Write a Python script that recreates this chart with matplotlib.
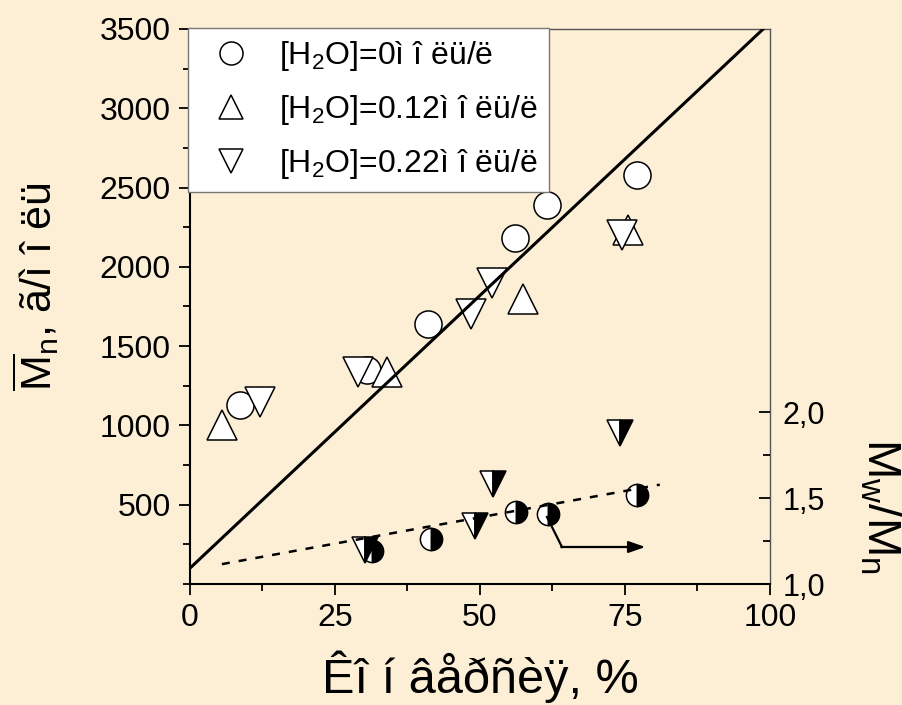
import matplotlib
matplotlib.use('Agg')
import matplotlib.pyplot as plt
from matplotlib.ticker import MultipleLocator, FixedLocator, FuncFormatter

plt.rcParams['font.family'] = ['Liberation Sans', 'DejaVu Sans']
plt.rcParams['mathtext.default'] = 'regular'

# Mn vs conversion, three water concentrations
x_0 = [8.6, 30.5, 41.0, 56.0, 61.5, 77.0]
mn_0 = [1130, 1350, 1640, 2180, 2390, 2580]
x_12 = [5.5, 34.0, 57.5, 75.5]
mn_12 = [1000, 1340, 1800, 2230]
x_22 = [12.0, 29.0, 48.5, 52.0, 74.5]
mn_22 = [1150, 1340, 1700, 1900, 2200]

# Mw/Mn (right axis)
x_pd_c = [31.4, 41.5, 56.2, 61.7, 77.1]
pd_c = [1.19, 1.26, 1.42, 1.41, 1.52]
x_pd_t = [30.2, 49.1, 52.2, 74.1]
pd_t = [1.20, 1.34, 1.58, 1.88]

# linear fits
mn_fit = (34.4, 100.0)      # slope, intercept
mn_fit_x = (0.0, 98.8)
pd_fit = (0.00612, 1.082)
pd_fit_x = (5.5, 81.0)

labels = ['[H$_2$O]=0ì î ëü/ë', '[H$_2$O]=0.12ì î ëü/ë', '[H$_2$O]=0.22ì î ëü/ë']

bg = '#fcefd6'
fig = plt.figure(figsize=(9.03, 7.05), dpi=100, facecolor=bg)
ax = fig.add_axes([0.2104, 0.1716, 0.6423, 0.7873])
ax.set_facecolor('none')

mk = dict(linestyle='none', markerfacecolor='white', markeredgecolor='black', markeredgewidth=1.1)
h1, = ax.plot(x_0, mn_0, 'o', markersize=19.5, zorder=3, **mk)
h2, = ax.plot(x_12, mn_12, '^', markersize=21, zorder=4, **mk)
h3, = ax.plot(x_22, mn_22, 'v', markersize=21, zorder=5, **mk)

fx = list(mn_fit_x)
ax.plot(fx, [mn_fit[0] * v + mn_fit[1] for v in fx], color='black', lw=2.2, zorder=6)

ax.set_xlim(0, 100)
ax.set_ylim(0, 3500)
ax.xaxis.set_major_locator(MultipleLocator(25))
ax.xaxis.set_minor_locator(MultipleLocator(12.5))
ax.yaxis.set_major_locator(FixedLocator([500, 1000, 1500, 2000, 2500, 3000, 3500]))
ax.yaxis.set_minor_locator(MultipleLocator(250))
ax.tick_params(which='both', direction='out', width=1.3, labelsize=23, pad=6)
ax.tick_params(which='major', length=8)
ax.tick_params(which='minor', length=5)
ax.spines['left'].set_linewidth(1.5)
ax.spines['bottom'].set_linewidth(1.5)
for s in ('top', 'right'):
    ax.spines[s].set_linewidth(1.0)
    ax.spines[s].set_color('#555555')

# right axis
ax2 = ax.twinx()
ax2.set_ylim(1.0, 4.227)
ax2.yaxis.set_major_locator(FixedLocator([1.0, 1.5, 2.0]))
ax2.yaxis.set_minor_locator(FixedLocator([1.25, 1.75]))
ax2.yaxis.set_major_formatter(FuncFormatter(lambda v, p: ('%.1f' % v).replace('.', ',')))
ax2.tick_params(which='both', direction='in', width=1.3, labelsize=22, pad=9)
ax2.tick_params(which='major', length=8)
ax2.tick_params(which='minor', length=5)
for s in ax2.spines.values():
    s.set_visible(False)

hm = dict(linestyle='none', markerfacecolor='white', markerfacecoloralt='black',
          markeredgecolor='black', markeredgewidth=1.1, fillstyle='left')
ax2.plot(x_pd_c, pd_c, 'o', markersize=16, zorder=3, **hm)
ax2.plot(x_pd_t, pd_t, 'v', markersize=19, zorder=3, **hm)
px = list(pd_fit_x)
ax2.plot(px, [pd_fit[0] * v + pd_fit[1] for v in px], color='black', lw=1.8,
         linestyle=(0, (3.2, 3.6)), zorder=6)

# arrow pointing to the right axis
ax2.plot([0.6155, 0.6414], [0.1207, 0.0667], transform=ax2.transAxes, color='black', lw=1.6, zorder=6)
ax2.annotate('', xy=(0.785, 0.0667), xytext=(0.640, 0.0667), xycoords='axes fraction',
             arrowprops=dict(arrowstyle='-|>,head_length=1.0,head_width=0.35', color='black', lw=1.6,
                             shrinkA=0, shrinkB=0), zorder=6)

leg = ax2.legend([h1, h2, h3], labels, loc='upper left', bbox_to_anchor=(-0.004, 1.002),
                 borderaxespad=0, fontsize=23, frameon=True, fancybox=False, framealpha=1,
                 edgecolor='#777777', handlelength=2.0, handletextpad=0.5,
                 labelspacing=0.63, borderpad=0.35, markerscale=0.85)
leg.get_frame().set_linewidth(1.0)
leg.set_zorder(10)

ax.set_xlabel('Êî í âåðñèÿ, %', fontsize=35, labelpad=12)
fig.text(0.040, 0.594, r'$\overline{M}_n$, ã/ì î ëü', rotation=90, fontsize=31,
         ha='center', va='center')
fig.text(0.975, 0.282, r'M$_w$/M$_n$', rotation=270, fontsize=34, ha='center', va='center')

fig.savefig('out.png', dpi=100, facecolor=bg)
